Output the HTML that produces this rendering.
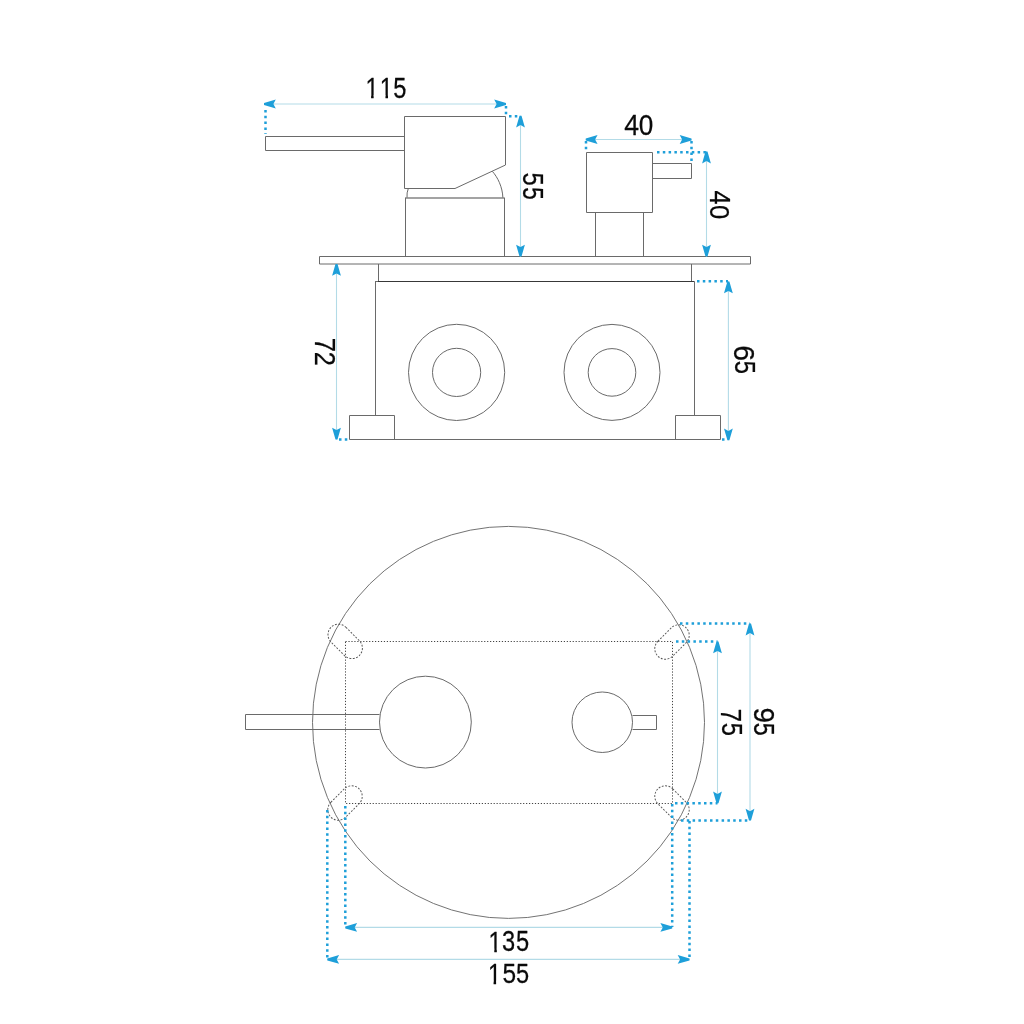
<!DOCTYPE html>
<html><head><meta charset="utf-8"><style>
html,body{margin:0;padding:0;background:#fff;width:1024px;height:1024px;overflow:hidden}
svg{display:block;will-change:transform}
text{font-family:"Liberation Sans",sans-serif;fill:#0a0a0a;stroke:#0a0a0a;stroke-width:0.9px;stroke-linejoin:round}
</style></head><body>
<svg width="1024" height="1024" viewBox="0 0 1024 1024">
<defs><clipPath id="c1"><rect x="-100" y="-200" width="300" height="190.4"/><rect x="24.3" y="-10" width="10.5" height="20"/></clipPath></defs>
<rect width="1024" height="1024" fill="#fff"/>
<path d="M404.5,136.5 H265.5 V150.5 H404.5" fill="none" stroke="#6a6a6a" stroke-width="1.0" />
<path d="M404.5,188.5 V116.5 H505.5 V165 L455,188.5 Z" fill="none" stroke="#6a6a6a" stroke-width="1.0" />
<path d="M492.3,171.3 C497.5,177 502.6,187 502.9,198" fill="none" stroke="#6a6a6a" stroke-width="1.0" />
<path d="M408.3,188.5 Q406.6,192.5 407,198" fill="none" stroke="#6a6a6a" stroke-width="1.0" />
<path d="M405,198 H504.8" fill="none" stroke="#858585" stroke-width="1.6" />
<path d="M405.5,198 V256.5 M504.5,198 V256.5" fill="none" stroke="#6a6a6a" stroke-width="1.0" />
<path d="M319.5,256.5 H750.5 V264 H319.5 Z" fill="none" stroke="#6a6a6a" stroke-width="1.0" />
<path d="M378.5,264 V281.5 M691.5,264 V281.5" fill="none" stroke="#6a6a6a" stroke-width="1.0" />
<path d="M375,281.5 H378" fill="none" stroke="#6a6a6a" stroke-width="1.0" />
<path d="M378,281.5 H694.5" fill="none" stroke="#383838" stroke-width="1.0" />
<path d="M375.5,281.5 V415.5 M694.5,281.5 V415.5" fill="none" stroke="#6a6a6a" stroke-width="1.0" />
<path d="M349.5,439.5 H720.5" fill="none" stroke="#6a6a6a" stroke-width="1.0" />
<path d="M349.5,439.5 V415.5 H394.5 V439.5" fill="none" stroke="#6a6a6a" stroke-width="1.0" />
<path d="M675.5,439.5 V415.5 H720.5 V439.5" fill="none" stroke="#6a6a6a" stroke-width="1.0" />
<path d="M408.50,372.4 A48.1,48.1 0 0 1 504.70,372.4 A48.1,48.1 0 0 1 408.50,372.4 Z" fill="none" stroke="#6a6a6a" stroke-width="1.0" />
<path d="M432.50,372.4 A24.1,24.1 0 0 1 480.70,372.4 A24.1,24.1 0 0 1 432.50,372.4 Z" fill="none" stroke="#6a6a6a" stroke-width="1.0" />
<path d="M564.00,372.4 A48.0,48.0 0 0 1 660.00,372.4 A48.0,48.0 0 0 1 564.00,372.4 Z" fill="none" stroke="#6a6a6a" stroke-width="1.0" />
<path d="M588.20,372.4 A23.8,23.8 0 0 1 635.80,372.4 A23.8,23.8 0 0 1 588.20,372.4 Z" fill="none" stroke="#6a6a6a" stroke-width="1.0" />
<path d="M586.5,212.5 V152.5 H652.5 V212.5 Z" fill="none" stroke="#6a6a6a" stroke-width="1.0" />
<path d="M595.5,212.5 V256.5 M643.5,212.5 V256.5" fill="none" stroke="#6a6a6a" stroke-width="1.0" />
<path d="M652.5,163.5 H691.5 V178.5 H652.5" fill="none" stroke="#6a6a6a" stroke-width="1.0" />
<path d="M264,104 L506,104" fill="none" stroke="#b3dbe7" stroke-width="1.1" />
<path d="M264.00,103.00 L275.80,99.60 L273.40,104.00 L275.80,108.40 L264.00,105.00Z" fill="#1e9fd9"/>
<path d="M506.00,105.00 L494.20,108.40 L496.60,104.00 L494.20,99.60 L506.00,103.00Z" fill="#1e9fd9"/>
<path d="M265.5,110 L265.5,134" fill="none" stroke="#1e9fd9" stroke-width="2.5" stroke-dasharray="2.5 3.3"/>
<path d="M506,106 L506,116" fill="none" stroke="#1e9fd9" stroke-width="2.5" stroke-dasharray="2.5 3.3"/>
<path d="M509,116.2 L520.5,116.2" fill="none" stroke="#1e9fd9" stroke-width="2.5" stroke-dasharray="2.5 3.3"/>
<text x="0" y="0" font-size="100" transform="translate(365.38,97.90) scale(0.2360,0.2907)" clip-path="url(#c1)">1</text>
<text x="0" y="0" font-size="100" transform="translate(379.78,97.90) scale(0.2360,0.2907)" clip-path="url(#c1)">1</text>
<text x="0" y="0" font-size="100" transform="translate(393.15,97.61) scale(0.2363,0.2865)">5</text>
<path d="M520.5,115.7 L520.5,256.5" fill="none" stroke="#b3dbe7" stroke-width="1.1" />
<path d="M521.50,115.70 L524.90,127.50 L520.50,125.10 L516.10,127.50 L519.50,115.70Z" fill="#1e9fd9"/>
<path d="M519.50,256.50 L516.10,244.70 L520.50,247.10 L524.90,244.70 L521.50,256.50Z" fill="#1e9fd9"/>
<text x="0" y="0" font-size="100" transform="translate(522.99,172.45) rotate(90) scale(0.2384,0.2894)">5</text>
<text x="0" y="0" font-size="100" transform="translate(522.99,187.20) rotate(90) scale(0.2247,0.2894)">5</text>
<path d="M585.75,139.5 L691.5,139.5" fill="none" stroke="#b3dbe7" stroke-width="1.1" />
<path d="M585.75,138.50 L597.55,135.10 L595.15,139.50 L597.55,143.90 L585.75,140.50Z" fill="#1e9fd9"/>
<path d="M691.50,140.50 L679.70,143.90 L682.10,139.50 L679.70,135.10 L691.50,138.50Z" fill="#1e9fd9"/>
<path d="M586,141 L586,152" fill="none" stroke="#1e9fd9" stroke-width="2.5" stroke-dasharray="2.5 3.3"/>
<path d="M691.5,141 L691.5,163" fill="none" stroke="#1e9fd9" stroke-width="2.5" stroke-dasharray="2.5 3.3"/>
<text x="0" y="0" font-size="100" transform="translate(624.14,135.25) scale(0.2669,0.2958)">4</text>
<text x="0" y="0" font-size="100" transform="translate(638.73,134.96) scale(0.2615,0.2874)">0</text>
<path d="M706.5,151.6 L706.5,256.5" fill="none" stroke="#b3dbe7" stroke-width="1.1" />
<path d="M707.50,151.60 L710.90,163.40 L706.50,161.00 L702.10,163.40 L705.50,151.60Z" fill="#1e9fd9"/>
<path d="M705.50,256.50 L702.10,244.70 L706.50,247.10 L710.90,244.70 L707.50,256.50Z" fill="#1e9fd9"/>
<path d="M657,152.2 L706,152.2" fill="none" stroke="#1e9fd9" stroke-width="2.5" stroke-dasharray="2.5 3.3"/>
<text x="0" y="0" font-size="100" transform="translate(709.90,190.52) rotate(90) scale(0.2540,0.2936)">4</text>
<text x="0" y="0" font-size="100" transform="translate(710.19,205.10) rotate(90) scale(0.2552,0.2853)">0</text>
<path d="M336.5,264 L336.5,439.5" fill="none" stroke="#b3dbe7" stroke-width="1.1" />
<path d="M337.50,264.00 L340.90,275.80 L336.50,273.40 L332.10,275.80 L335.50,264.00Z" fill="#1e9fd9"/>
<path d="M335.50,439.50 L332.10,427.70 L336.50,430.10 L340.90,427.70 L337.50,439.50Z" fill="#1e9fd9"/>
<path d="M339,439.5 L349,439.5" fill="none" stroke="#1e9fd9" stroke-width="2.5" stroke-dasharray="2.5 3.3"/>
<text x="0" y="0" font-size="100" transform="translate(315.00,337.70) rotate(90) scale(0.2549,0.2907)">7</text>
<text x="0" y="0" font-size="100" transform="translate(315.00,351.83) rotate(90) scale(0.2544,0.2865)">2</text>
<path d="M728.4,281.5 L728.4,440.3" fill="none" stroke="#b3dbe7" stroke-width="1.1" />
<path d="M729.40,281.50 L732.80,293.30 L728.40,290.90 L724.00,293.30 L727.40,281.50Z" fill="#1e9fd9"/>
<path d="M727.40,440.30 L724.00,428.50 L728.40,430.90 L732.80,428.50 L729.40,440.30Z" fill="#1e9fd9"/>
<path d="M697,281.3 L728,281.3" fill="none" stroke="#1e9fd9" stroke-width="2.5" stroke-dasharray="2.5 3.3"/>
<path d="M722,439.5 L727,439.5" fill="none" stroke="#1e9fd9" stroke-width="2.5" stroke-dasharray="2.5 3.3"/>
<text x="0" y="0" font-size="100" transform="translate(734.49,345.30) rotate(90) scale(0.2852,0.2910)">6</text>
<text x="0" y="0" font-size="100" transform="translate(734.50,360.80) rotate(90) scale(0.2373,0.2951)">5</text>
<path d="M312.50,722.4 A196,196 0 0 1 704.50,722.4 A196,196 0 0 1 312.50,722.4 Z" fill="none" stroke="#6c6c6c" stroke-width="0.95" />
<path d="M379.5,714.5 H245.5 V729.5 H379.5" fill="none" stroke="#6a6a6a" stroke-width="1.0" />
<path d="M379.50,722.1 A45.9,45.9 0 0 1 471.30,722.1 A45.9,45.9 0 0 1 379.50,722.1 Z" fill="none" stroke="#6a6a6a" stroke-width="1.0" />
<path d="M572.00,722.25 A30.25,30.25 0 0 1 632.50,722.25 A30.25,30.25 0 0 1 572.00,722.25 Z" fill="none" stroke="#6a6a6a" stroke-width="1.0" />
<path d="M632.5,715.5 H656.5 V729.5 H632.5" fill="none" stroke="#6a6a6a" stroke-width="1.0" />
<path d="M345.5,641.5 H672.5 V803.5 H345.5 Z" fill="none" stroke="#444444" stroke-width="1.0" stroke-dasharray="1.2 1.75"/>
<rect x="-20" y="-10.5" width="40" height="21" rx="10.5" ry="10.5" fill="none" stroke="#555" stroke-width="0.95" stroke-dasharray="1.9 1.5" transform="translate(345.2,641.4) rotate(45)"/>
<rect x="-20" y="-10.5" width="40" height="21" rx="10.5" ry="10.5" fill="none" stroke="#555" stroke-width="0.95" stroke-dasharray="1.9 1.5" transform="translate(672,642) rotate(-45)"/>
<rect x="-20" y="-10.5" width="40" height="21" rx="10.5" ry="10.5" fill="none" stroke="#555" stroke-width="0.95" stroke-dasharray="1.9 1.5" transform="translate(345,803) rotate(-45)"/>
<rect x="-20" y="-10.5" width="40" height="21" rx="10.5" ry="10.5" fill="none" stroke="#555" stroke-width="0.95" stroke-dasharray="1.9 1.5" transform="translate(672,803) rotate(45)"/>
<path d="M717.5,641.5 L717.5,803.3" fill="none" stroke="#b3dbe7" stroke-width="1.1" />
<path d="M718.50,641.50 L721.90,653.30 L717.50,650.90 L713.10,653.30 L716.50,641.50Z" fill="#1e9fd9"/>
<path d="M716.50,803.30 L713.10,791.50 L717.50,793.90 L721.90,791.50 L718.50,803.30Z" fill="#1e9fd9"/>
<path d="M676,641.5 L717.5,641.5" fill="none" stroke="#1e9fd9" stroke-width="2.5" stroke-dasharray="2.5 3.3"/>
<path d="M675,803.3 L717.5,803.3" fill="none" stroke="#1e9fd9" stroke-width="2.5" stroke-dasharray="2.5 3.3"/>
<text x="0" y="0" font-size="100" transform="translate(721.40,708.78) rotate(90) scale(0.2396,0.2951)">7</text>
<text x="0" y="0" font-size="100" transform="translate(721.69,722.80) rotate(90) scale(0.2373,0.2908)">5</text>
<path d="M750,623.6 L750,820.6" fill="none" stroke="#b3dbe7" stroke-width="1.1" />
<path d="M751.00,623.60 L754.40,635.40 L750.00,633.00 L745.60,635.40 L749.00,623.60Z" fill="#1e9fd9"/>
<path d="M749.00,820.60 L745.60,808.80 L750.00,811.20 L754.40,808.80 L751.00,820.60Z" fill="#1e9fd9"/>
<path d="M680,623.6 L750,623.6" fill="none" stroke="#1e9fd9" stroke-width="2.5" stroke-dasharray="2.5 3.3"/>
<path d="M681,820.6 L750,820.6" fill="none" stroke="#1e9fd9" stroke-width="2.5" stroke-dasharray="2.5 3.3"/>
<text x="0" y="0" font-size="100" transform="translate(754.49,707.44) rotate(90) scale(0.2781,0.2867)">9</text>
<text x="0" y="0" font-size="100" transform="translate(754.49,722.83) rotate(90) scale(0.2310,0.2908)">5</text>
<path d="M345.3,927.4 L672.2,927.4" fill="none" stroke="#b3dbe7" stroke-width="1.1" />
<path d="M345.30,926.40 L357.10,923.00 L354.70,927.40 L357.10,931.80 L345.30,928.40Z" fill="#1e9fd9"/>
<path d="M672.20,928.40 L660.40,931.80 L662.80,927.40 L660.40,923.00 L672.20,926.40Z" fill="#1e9fd9"/>
<path d="M345.3,806 L345.3,927" fill="none" stroke="#1e9fd9" stroke-width="2.5" stroke-dasharray="2.5 3.3"/>
<path d="M672.2,804 L672.2,927" fill="none" stroke="#1e9fd9" stroke-width="2.5" stroke-dasharray="2.5 3.3"/>
<text x="0" y="0" font-size="100" transform="translate(488.58,951.60) scale(0.2360,0.2958)" clip-path="url(#c1)">1</text>
<text x="0" y="0" font-size="100" transform="translate(501.90,951.31) scale(0.2363,0.2874)">3</text>
<text x="0" y="0" font-size="100" transform="translate(515.95,951.31) scale(0.2363,0.2915)">5</text>
<path d="M327.3,959.4 L689.5,959.4" fill="none" stroke="#b3dbe7" stroke-width="1.1" />
<path d="M327.30,958.40 L339.10,955.00 L336.70,959.40 L339.10,963.80 L327.30,960.40Z" fill="#1e9fd9"/>
<path d="M689.50,960.40 L677.70,963.80 L680.10,959.40 L677.70,955.00 L689.50,958.40Z" fill="#1e9fd9"/>
<path d="M327.3,810 L327.3,959" fill="none" stroke="#1e9fd9" stroke-width="2.5" stroke-dasharray="2.5 3.3"/>
<path d="M689.5,821 L689.5,959" fill="none" stroke="#1e9fd9" stroke-width="2.5" stroke-dasharray="2.5 3.3"/>
<text x="0" y="0" font-size="100" transform="translate(487.88,983.60) scale(0.2360,0.2885)" clip-path="url(#c1)">1</text>
<text x="0" y="0" font-size="100" transform="translate(502.42,983.32) scale(0.2447,0.2844)">5</text>
<text x="0" y="0" font-size="100" transform="translate(515.95,983.32) scale(0.2363,0.2844)">5</text>
</svg>
</body></html>
